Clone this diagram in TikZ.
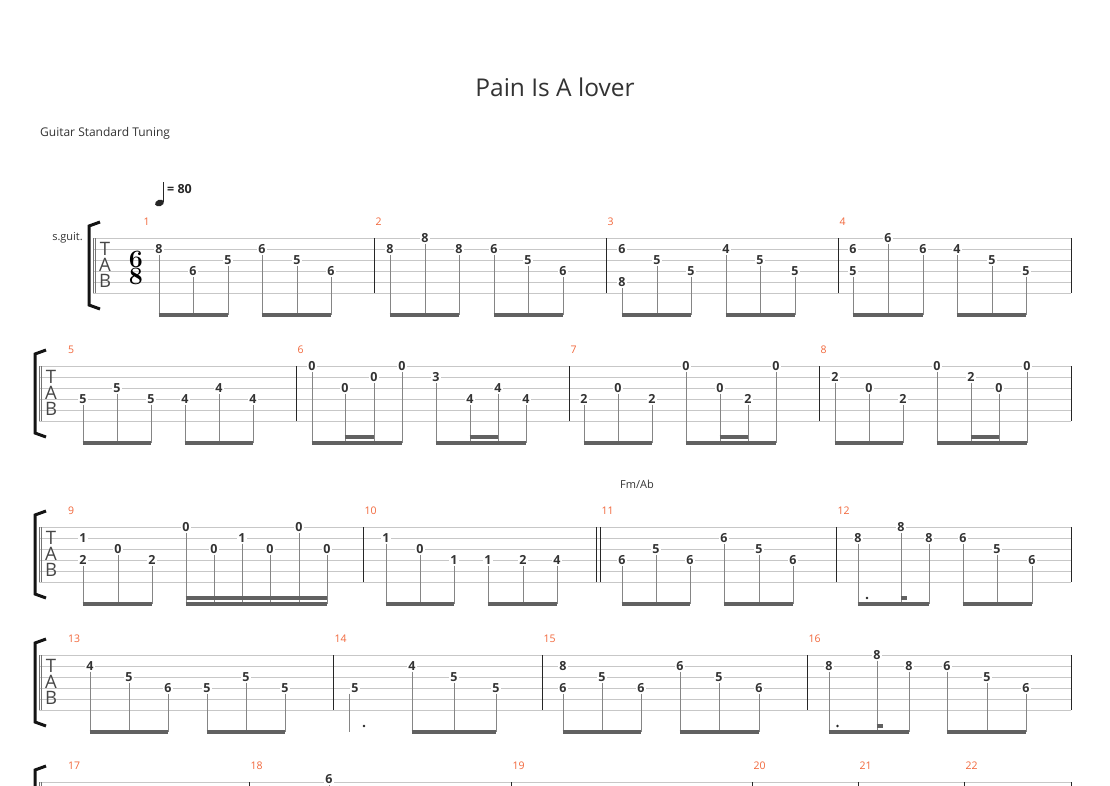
\documentclass[tikz,border=0pt]{standalone}
\usepackage{fontspec}
\newfontfamily\uifont{Open Sans}
\definecolor{barnr}{RGB}{242,104,60}

\tikzset{
  staffline/.style={draw=black!22, line width=0.9pt},
  startline/.style={draw=black!55, line width=0.6pt},
  barline/.style={draw=black!85, line width=0.9pt},
  bracketline/.style={draw=black!92, line width=3pt, line join=miter},
  fret/.style={font=\uifont\bfseries\fontsize{12.5}{13}\selectfont, text=black!80,
    fill=white, inner xsep=1.6pt, inner ysep=1pt},
  stemline/.style={draw=black!48, line width=0.9pt},
  beamline/.style={draw=black!62, line width=3.1pt, shorten <=-0.45pt, shorten >=-0.45pt},
  barnum/.style={font=\uifont\fontsize{10.5}{12}\selectfont, text=barnr, anchor=west, inner sep=0pt},
  tabletter/.style={font=\uifont\fontsize{18.5}{18.5}\selectfont, text=black!72, inner sep=0pt},
  smalltext/.style={font=\uifont\fontsize{11}{13}\selectfont, text=black!80}
}

% one fret number: name, x, string, fret
\newcommand{\fr}[4]{\node[fret] (#1) at (#2,\sysy+11*#3-11) {#4};}
\newcommand{\stemdown}[1]{\draw[stemline] (#1.south) -- (#1.south |- by);}
\newcommand{\beamgrp}[2]{\draw[beamline] (#1.south |- by) -- (#2.south |- by);}
\newcommand{\beamsec}[2]{\draw[beamline] (#1.south |- bs) -- (#2.south |- bs);}
\newcommand{\trio}[3]{\stemdown{#1}\stemdown{#2}\stemdown{#3}\beamgrp{#1}{#3}}
\newcommand{\fourgrp}[4]{\stemdown{#1}\stemdown{#2}\stemdown{#3}\stemdown{#4}%
  \beamgrp{#1}{#4}\beamsec{#2}{#3}}
\newcommand{\barat}[1]{\draw[barline] (#1,\sysy) -- (#1,\sysy+55);}
% new system: top line y, left x
\newcommand{\newsystem}[2]{%
  \def\sysy{#1}
  \coordinate (by) at (0,#1+77);
  \coordinate (bs) at (0,#1+71);
  \foreach \k in {0,...,5} \draw[staffline] (#2,#1+11*\k) -- (1071,#1+11*\k);
  \draw[bracketline] (#2+7,#1-16) -- (#2-4,#1-12) -- (#2-4,#1+67) -- (#2+7,#1+71);
  \draw[startline] (#2,#1) -- (#2,#1+55);
  \draw[startline] (#2+2.2,#1) -- (#2+2.2,#1+55);
  \barat{1071}
}
% T A B letters: left x, name
\newcommand{\tablabel}[2]{%
  \node[tabletter] (#2T) at (#1+12,\sysy+11) {T};
  \node[tabletter] (#2A) at (#1+12,\sysy+27) {A};
  \node[tabletter] (#2B) at (#1+12,\sysy+43) {B};
}

\begin{document}
\begin{tikzpicture}[x=1pt, y=-1pt]
  \useasboundingbox (0,0) rectangle (1110,785);
  \clip (0,0) rectangle (1110,785);
  \fill[white] (0,0) rectangle (1110,785);

  \node[font=\uifont\fontsize{24.5}{28}\selectfont, text=black!80] (title) at (555,87) {Pain Is A lover};
  \node[font=\uifont\fontsize{12}{14}\selectfont, text=black!80, anchor=west, inner sep=0pt] (tuning) at (40,133) {Guitar Standard Tuning};

  % tempo
  \fill[black!85, rotate around={20:(159.5,203)}] (159.5,203) ellipse [x radius=4.6pt, y radius=3.2pt];
  \draw[black!85, line width=1pt] (163.6,202) -- (163.6,181.5);
  \node[font=\uifont\bfseries\fontsize{12.5}{14}\selectfont, text=black!85, anchor=west, inner sep=0pt] (tempo) at (167,189) {= 80};

  %% system 1
  \newsystem{238}{93}
  \tablabel{93}{s1}
  \node[smalltext, anchor=east, inner sep=0pt] (instr) at (83,238) {s.guit.};
  \node[font=\rmfamily\bfseries\fontsize{25}{17}\selectfont, align=center, inner sep=0pt] (timesig) at (136,268) {6\\8};
  \barat{374} \barat{606} \barat{838}
  \node[barnum] (nr1) at (143.5,222) {1};
  \node[barnum] (nr2) at (375.5,222) {2};
  \node[barnum] (nr3) at (607.5,222) {3};
  \node[barnum] (nr4) at (839.5,222) {4};
  % m1
  \fr{m1a}{159}{2}{8} \fr{m1b}{193}{4}{6} \fr{m1c}{228}{3}{5}
  \fr{m1d}{262}{2}{6} \fr{m1e}{297}{3}{5} \fr{m1f}{331}{4}{6}
  \trio{m1a}{m1b}{m1c} \trio{m1d}{m1e}{m1f}
  % m2
  \fr{m2a}{390}{2}{8} \fr{m2b}{425}{1}{8} \fr{m2c}{459}{2}{8}
  \fr{m2d}{494}{2}{6} \fr{m2e}{528}{3}{5} \fr{m2f}{563}{4}{6}
  \trio{m2a}{m2b}{m2c} \trio{m2d}{m2e}{m2f}
  % m3
  \fr{m3t}{622}{2}{6} \fr{m3a}{622}{5}{8} \fr{m3b}{657}{3}{5} \fr{m3c}{691}{4}{5}
  \fr{m3d}{726}{2}{4} \fr{m3e}{760}{3}{5} \fr{m3f}{795}{4}{5}
  \trio{m3a}{m3b}{m3c} \trio{m3d}{m3e}{m3f}
  % m4
  \fr{m4t}{853}{2}{6} \fr{m4a}{853}{4}{5} \fr{m4b}{888}{1}{6} \fr{m4c}{923}{2}{6}
  \fr{m4d}{957}{2}{4} \fr{m4e}{992}{3}{5} \fr{m4f}{1026}{4}{5}
  \trio{m4a}{m4b}{m4c} \trio{m4d}{m4e}{m4f}

  %% system 2
  \newsystem{366}{39}
  \tablabel{39}{s2}
  \barat{296} \barat{569} \barat{819}
  \node[barnum] (nr5) at (68,350) {5};
  \node[barnum] (nr6) at (297.5,350) {6};
  \node[barnum] (nr7) at (570.5,350) {7};
  \node[barnum] (nr8) at (820.5,350) {8};
  % m5
  \fr{m5a}{83}{4}{5} \fr{m5b}{117}{3}{5} \fr{m5c}{151}{4}{5}
  \fr{m5d}{185}{4}{4} \fr{m5e}{219}{3}{4} \fr{m5f}{253}{4}{4}
  \trio{m5a}{m5b}{m5c} \trio{m5d}{m5e}{m5f}
  % m6
  \fr{m6a}{312}{1}{0} \fr{m6b}{345}{3}{0} \fr{m6c}{374}{2}{0} \fr{m6d}{402}{1}{0}
  \fr{m6e}{436}{2}{3} \fr{m6f}{470}{4}{4} \fr{m6g}{498}{3}{4} \fr{m6h}{526}{4}{4}
  \fourgrp{m6a}{m6b}{m6c}{m6d} \fourgrp{m6e}{m6f}{m6g}{m6h}
  % m7
  \fr{m7a}{584}{4}{2} \fr{m7b}{618}{3}{0} \fr{m7c}{652}{4}{2}
  \fr{m7d}{686}{1}{0} \fr{m7e}{720}{3}{0} \fr{m7f}{748}{4}{2} \fr{m7g}{776}{1}{0}
  \trio{m7a}{m7b}{m7c} \fourgrp{m7d}{m7e}{m7f}{m7g}
  % m8
  \fr{m8a}{835}{2}{2} \fr{m8b}{869}{3}{0} \fr{m8c}{903}{4}{2}
  \fr{m8d}{937}{1}{0} \fr{m8e}{971}{2}{2} \fr{m8f}{999}{3}{0} \fr{m8g}{1027}{1}{0}
  \trio{m8a}{m8b}{m8c} \fourgrp{m8d}{m8e}{m8f}{m8g}

  %% system 3
  \newsystem{527}{39}
  \tablabel{39}{s3}
  \node[smalltext] (chord) at (637,484) {Fm/Ab};
  \barat{363} \barat{596} \barat{600} \barat{836}
  \node[barnum] (nr9) at (68,511) {9};
  \node[barnum] (nr10) at (364.5,511) {10};
  \node[barnum] (nr11) at (601.5,511) {11};
  \node[barnum] (nr12) at (837.5,511) {12};
  % m9
  \fr{m9t}{83}{2}{1} \fr{m9a}{83}{4}{2} \fr{m9b}{118}{3}{0} \fr{m9c}{152}{4}{2}
  \trio{m9a}{m9b}{m9c}
  \fr{m9d}{186}{1}{0} \fr{m9e}{214}{3}{0} \fr{m9f}{242}{2}{1}
  \fr{m9g}{270}{3}{0} \fr{m9h}{299}{1}{0} \fr{m9i}{327}{3}{0}
  \foreach \n in {d,e,f,g,h,i} \stemdown{m9\n};
  \beamgrp{m9d}{m9i} \beamsec{m9d}{m9i}
  % m10
  \fr{m10a}{386}{2}{1} \fr{m10b}{420}{3}{0} \fr{m10c}{454}{4}{1}
  \fr{m10d}{488}{4}{1} \fr{m10e}{523}{4}{2} \fr{m10f}{557}{4}{4}
  \trio{m10a}{m10b}{m10c} \trio{m10d}{m10e}{m10f}
  % m11
  \fr{m11a}{622}{4}{6} \fr{m11b}{656}{3}{5} \fr{m11c}{690}{4}{6}
  \fr{m11d}{724}{2}{6} \fr{m11e}{759}{3}{5} \fr{m11f}{793}{4}{6}
  \trio{m11a}{m11b}{m11c} \trio{m11d}{m11e}{m11f}
  % m12
  \fr{m12a}{858}{2}{8} \fr{m12b}{901}{1}{8} \fr{m12c}{929}{2}{8}
  \fr{m12d}{963}{2}{6} \fr{m12e}{997}{3}{5} \fr{m12f}{1032}{4}{6}
  \trio{m12a}{m12b}{m12c} \trio{m12d}{m12e}{m12f}
  \draw[beamline] (m12b.south |- bs) -- ++(6,0);
  \fill[black!85] (867,598) circle[radius=1.3pt];

  %% system 4
  \newsystem{655}{39}
  \tablabel{39}{s4}
  \barat{333} \barat{542} \barat{807}
  \node[barnum] (nr13) at (68,639) {13};
  \node[barnum] (nr14) at (334.5,639) {14};
  \node[barnum] (nr15) at (543.5,639) {15};
  \node[barnum] (nr16) at (808.5,639) {16};
  % m13
  \fr{m13a}{90}{2}{4} \fr{m13b}{129}{3}{5} \fr{m13c}{168}{4}{6}
  \fr{m13d}{207}{4}{5} \fr{m13e}{246}{3}{5} \fr{m13f}{285}{4}{5}
  \trio{m13a}{m13b}{m13c} \trio{m13d}{m13e}{m13f}
  % m14
  \fr{m14a}{355}{4}{5}
  \draw[stemline] (m14a.south west) -- (m14a.south west |- by);
  \fill[black!85] (364,726) circle[radius=1.3pt];
  \fr{m14b}{412}{2}{4} \fr{m14c}{454}{3}{5} \fr{m14d}{496}{4}{5}
  \trio{m14b}{m14c}{m14d}
  % m15
  \fr{m15t}{563}{2}{8} \fr{m15a}{563}{4}{6} \fr{m15b}{602}{3}{5} \fr{m15c}{641}{4}{6}
  \fr{m15d}{680}{2}{6} \fr{m15e}{719}{3}{5} \fr{m15f}{759}{4}{6}
  \trio{m15a}{m15b}{m15c} \trio{m15d}{m15e}{m15f}
  % m16
  \fr{m16a}{829}{2}{8} \fr{m16b}{877}{1}{8} \fr{m16c}{909}{2}{8}
  \fr{m16d}{947}{2}{6} \fr{m16e}{987}{3}{5} \fr{m16f}{1026}{4}{6}
  \trio{m16a}{m16b}{m16c} \trio{m16d}{m16e}{m16f}
  \draw[beamline] (m16b.south |- bs) -- ++(6,0);
  \fill[black!85] (837.5,726) circle[radius=1.3pt];

  %% system 5
  \newsystem{782}{39}
  \barat{249} \barat{511} \barat{752} \barat{858} \barat{964}
  \node[barnum] (nr17) at (68,766) {17};
  \node[barnum] (nr18) at (250.5,766) {18};
  \node[barnum] (nr19) at (512.5,766) {19};
  \node[barnum] (nr20) at (753.5,766) {20};
  \node[barnum] (nr21) at (859.5,766) {21};
  \node[barnum] (nr22) at (965.5,766) {22};
  \node[fret] (m18a) at (329,779) {6};
  \stemdown{m18a}
\end{tikzpicture}
\end{document}
